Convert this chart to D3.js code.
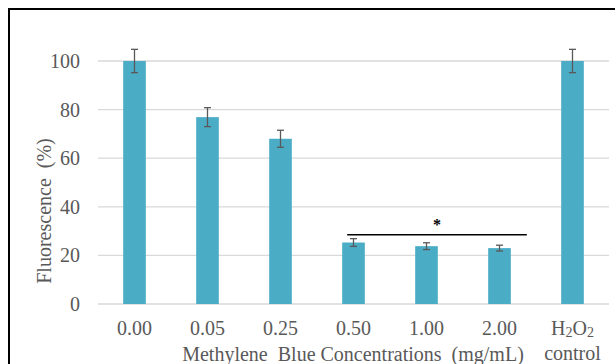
<!DOCTYPE html>
<html>
<head>
<meta charset="utf-8">
<script src="https://cdn.jsdelivr.net/npm/d3@7"></script>
<style>
  body { margin: 0; background: #fff; }
  svg text { font-family: "Liberation Serif", "Times New Roman", serif; fill: #595959; }
</style>
</head>
<body>
<div id="chart"></div>
<script>
// data
const categories = ["0.00", "0.05", "0.25", "0.50", "1.00", "2.00", "H2O2"];
const fluorescence = [100, 76.9, 68.0, 25.3, 23.8, 23.0, 100];
const errors = [4.8, 3.9, 3.5, 1.6, 1.4, 1.2, 4.8];
const yTicks = [0, 20, 40, 60, 80, 100];
const sigFrom = "0.50", sigTo = "2.00", sigLevel = 28.5;

const width = 615, height = 364;
const margin = { top: 61, right: 6, bottom: 60, left: 98 };
const fs = "20px";

const svg = d3.select("#chart").append("svg")
  .attr("width", width)
  .attr("height", height);

// outer frame, cut off on the right and bottom like the screenshot
svg.append("rect")
  .attr("x", 9).attr("y", 9)
  .attr("width", 640).attr("height", 400)
  .attr("fill", "none")
  .attr("stroke", "#000")
  .attr("stroke-width", 2);

const x = d3.scaleBand()
  .domain(categories)
  .range([margin.left, width - margin.right])
  .paddingInner(0.69)
  .paddingOuter(0.345);

const y = d3.scaleLinear()
  .domain([0, 100])
  .range([height - margin.bottom, margin.top]);

// gridlines
svg.append("g")
  .selectAll("line")
  .data(yTicks)
  .enter()
  .append("line")
  .attr("x1", margin.left)
  .attr("x2", width - margin.right)
  .attr("y1", d => y(d))
  .attr("y2", d => y(d))
  .attr("stroke", "#d9d9d9")
  .attr("stroke-width", 1.3);

// y tick labels
svg.append("g")
  .selectAll("text")
  .data(yTicks)
  .enter()
  .append("text")
  .attr("x", 80)
  .attr("y", d => y(d))
  .attr("dy", "0.35em")
  .attr("text-anchor", "end")
  .style("font-size", fs)
  .text(d => d);

// bars
svg.append("g")
  .selectAll("rect")
  .data(categories)
  .enter()
  .append("rect")
  .attr("x", d => x(d))
  .attr("width", x.bandwidth())
  .attr("y", (d, i) => y(fluorescence[i]))
  .attr("height", (d, i) => y(0) - y(fluorescence[i]))
  .attr("fill", "#4bacc6");

// error bars
const eb = svg.append("g").attr("stroke", "#595959").attr("stroke-width", 1.3);
categories.forEach((c, i) => {
  const cx = x(c) + x.bandwidth() / 2;
  const hi = y(fluorescence[i] + errors[i]);
  const lo = y(fluorescence[i] - errors[i]);
  eb.append("line").attr("x1", cx).attr("x2", cx).attr("y1", hi).attr("y2", lo);
  eb.append("line").attr("x1", cx - 3.5).attr("x2", cx + 3.5).attr("y1", hi).attr("y2", hi);
  eb.append("line").attr("x1", cx - 3.5).attr("x2", cx + 3.5).attr("y1", lo).attr("y2", lo);
});

// significance bracket
const sx1 = x(sigFrom) + 5;
const sx2 = x(sigTo) + x.bandwidth() + 16;
svg.append("line")
  .attr("x1", sx1).attr("x2", sx2)
  .attr("y1", y(sigLevel)).attr("y2", y(sigLevel))
  .attr("stroke", "#000")
  .attr("stroke-width", 1.5);
svg.append("text")
  .attr("x", (sx1 + sx2) / 2)
  .attr("y", y(sigLevel) - 5)
  .attr("text-anchor", "middle")
  .style("font-size", "16px")
  .style("font-weight", "bold")
  .style("fill", "#000")
  .text("*");

// category labels
const xl = svg.append("g");
categories.forEach(c => {
  const cx = x(c) + x.bandwidth() / 2;
  if (c === "H2O2") {
    const t = xl.append("text")
      .attr("x", cx).attr("y", 335)
      .attr("text-anchor", "middle")
      .style("font-size", fs);
    t.append("tspan").text("H");
    t.append("tspan").attr("dy", 2).style("font-size", "14px").text("2");
    t.append("tspan").attr("dy", -2).text("O");
    t.append("tspan").attr("dy", 2).style("font-size", "14px").text("2");
    xl.append("text")
      .attr("x", cx).attr("y", 360)
      .attr("text-anchor", "middle")
      .style("font-size", fs)
      .text("control");
  } else {
    xl.append("text")
      .attr("x", cx).attr("y", 335)
      .attr("text-anchor", "middle")
      .style("font-size", fs)
      .text(c);
  }
});

// axis titles
svg.append("text")
  .attr("x", 353)
  .attr("y", 361)
  .attr("text-anchor", "middle")
  .style("font-size", fs)
  .style("white-space", "pre")
  .text("Methylene  Blue Concentrations  (mg/mL)");

svg.append("text")
  .attr("transform", "translate(51,211) rotate(-90)")
  .attr("text-anchor", "middle")
  .style("font-size", fs)
  .style("white-space", "pre")
  .text("Fluorescence  (%)");
</script>
</body>
</html>
